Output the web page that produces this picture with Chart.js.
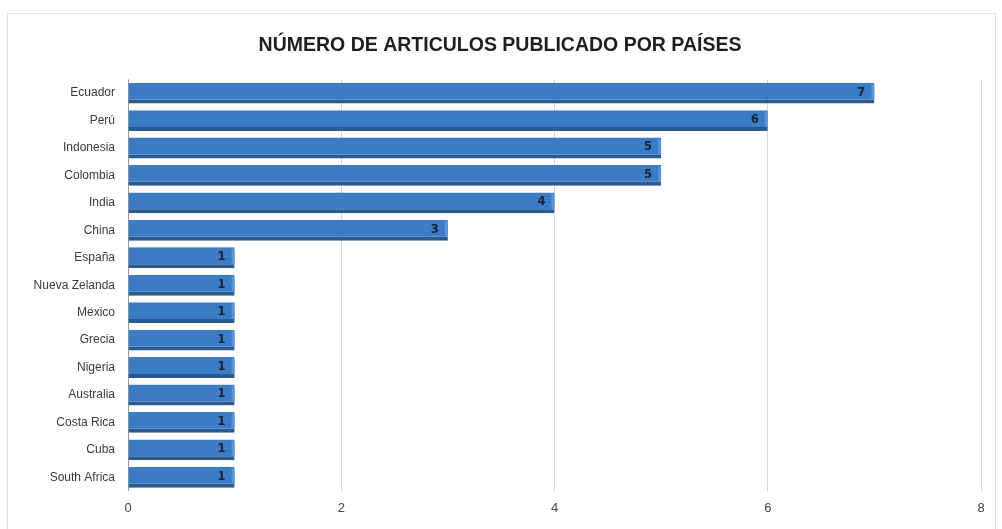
<!DOCTYPE html>
<html><head><meta charset="utf-8">
<script src="https://cdn.jsdelivr.net/npm/chart.js@4"></script>
<style>
html,body{margin:0;padding:0;background:#fff;}
#wrap{position:relative;width:1002px;height:529px;}
#frame{position:absolute;left:7px;top:13px;width:989px;height:520px;border:1px solid #e3e3e3;box-sizing:border-box;}
#c{position:absolute;left:0;top:0;}
</style></head>
<body>
<div id="wrap"><div id="frame"></div><canvas id="c" width="1002" height="529"></canvas></div>
<script>
const countries = ["Ecuador","Perú","Indonesia","Colombia","India","China","España","Nueva Zelanda","Mexico","Grecia","Nigeria","Australia","Costa Rica","Cuba","South Africa"];
const articles = [7,6,5,5,4,3,1,1,1,1,1,1,1,1,1];
const xTicks = [0,2,4,6,8];
const chartTitle = "NÚMERO DE ARTICULOS PUBLICADO POR PAÍSES";

const valueLabels = {
  id:'valueLabels',
  afterDatasetsDraw(chart){
    const ctx = chart.ctx;
    const meta = chart.getDatasetMeta(0);
    ctx.save();
    ctx.font = 'bold 11.5px "DejaVu Sans", Verdana, sans-serif';
    ctx.fillStyle = '#14233a';
    ctx.textAlign = 'right';
    ctx.textBaseline = 'middle';
    meta.data.forEach((bar,i)=>{
      ctx.fillText(String(chart.data.datasets[0].data[i]), bar.x - 9, bar.y - 0.5);
    });
    ctx.restore();
  }
};

// subtle bevel on bar ends to mimic the 3D look
const bevel = {
  id:'bevel',
  afterDatasetsDraw(chart){
    const ctx = chart.ctx;
    const meta = chart.getDatasetMeta(0);
    ctx.save();
    meta.data.forEach(bar=>{
      const top = bar.y - bar.height/2, bot = bar.y + bar.height/2;
      ctx.fillStyle = '#5a95d6';
      ctx.beginPath();
      ctx.moveTo(bar.x - 3, top);
      ctx.lineTo(bar.x, top + 3);
      ctx.lineTo(bar.x, bot - 4);
      ctx.lineTo(bar.x - 3, bot - 4);
      ctx.closePath();
      ctx.fill();
    });
    ctx.restore();
  }
};

new Chart(document.getElementById('c'), {
  type:'bar',
  data:{labels:countries, datasets:[{
    data:articles,
    backgroundColor:'#3b7cc4',
    borderColor:'#2a5a8e',
    borderWidth:{top:0,left:0,right:0,bottom:4},
    borderSkipped:false,
    categoryPercentage:0.8,
    barPercentage:0.95
  }]},
  options:{
    indexAxis:'y',
    responsive:false,
    animation:false,
    devicePixelRatio:1,
    layout:{padding:{left:19,right:21,top:0,bottom:10}},
    plugins:{
      legend:{display:false},
      tooltip:{enabled:false},
      title:{display:true,text:chartTitle,color:'#1e1e1e',
        font:{family:'"Liberation Sans", Arial, sans-serif',size:19.5,weight:'bold'},
        padding:{top:34,bottom:22}}
    },
    scales:{
      x:{min:0,max:8,
        afterBuildTicks(s){ s.ticks = xTicks.map(v=>({value:v})); },
        afterFit(s){ s.height = 28; },
        grid:{drawTicks:false,color:(c)=>c.tick && c.tick.value===0 ? '#9a9a9a' : '#d6d6d6',lineWidth:1},
        border:{display:false},
        ticks:{padding:10,color:'#444',font:{family:'"Liberation Sans", Arial, sans-serif',size:13}}
      },
      y:{
        afterFit(s){ s.width = 109; },
        grid:{display:false,drawTicks:false},
        border:{display:false},
        ticks:{padding:13,color:'#3a3a3a',font:{family:'"Liberation Sans", Arial, sans-serif',size:12}}
      }
    }
  },
  plugins:[bevel,valueLabels]
});
</script>
</body></html>
